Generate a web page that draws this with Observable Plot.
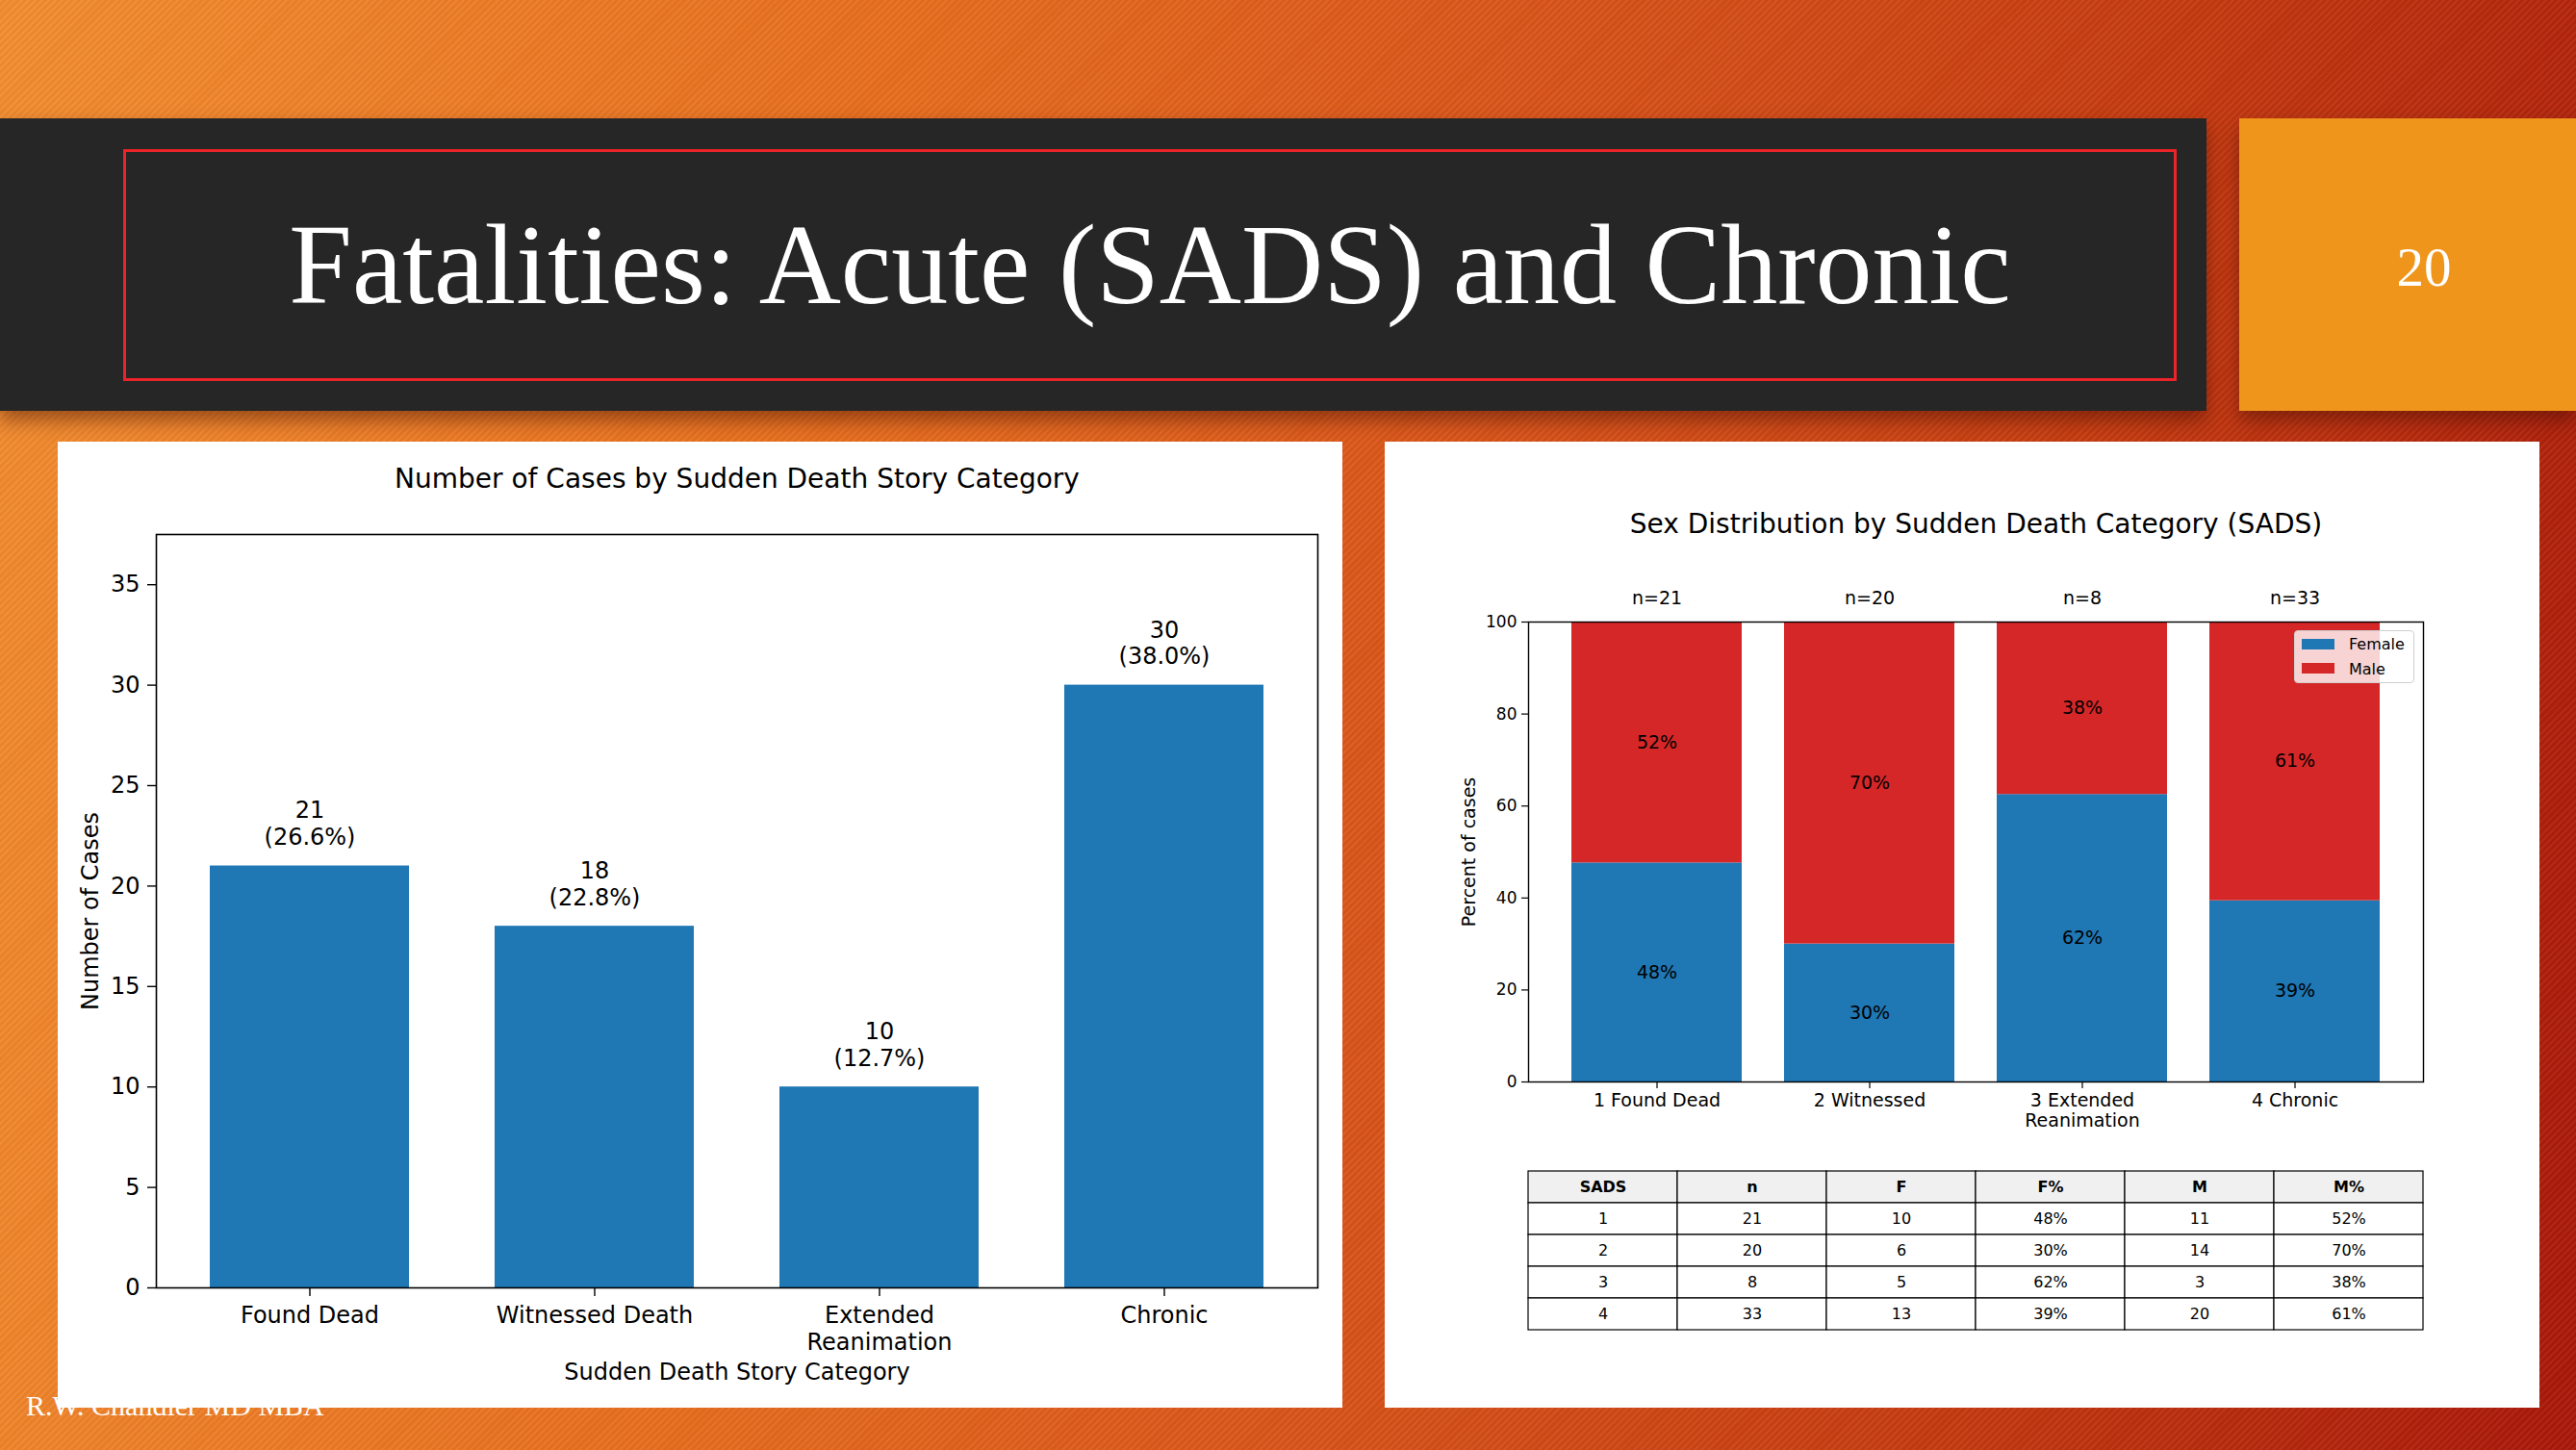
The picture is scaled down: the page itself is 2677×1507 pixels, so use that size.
<!DOCTYPE html>
<html>
<head>
<meta charset="utf-8">
<script src="https://cdn.jsdelivr.net/npm/d3@7"></script>
<script src="https://cdn.jsdelivr.net/npm/@observablehq/plot@0.6"></script>
<style>
  html, body { margin: 0; padding: 0; }
  body {
    width: 2677px; height: 1507px; overflow: hidden; position: relative;
    background:
      repeating-linear-gradient(135deg, rgba(255,255,255,0.05) 0px, rgba(255,255,255,0.05) 2px, rgba(0,0,0,0.03) 2px, rgba(0,0,0,0.03) 5px),
      linear-gradient(100deg, #f28d30 0%, #e8701f 30%, #d9541a 55%, #c43a10 78%, #a8180a 100%);
    font-family: "DejaVu Sans", sans-serif;
  }
  .abs { position: absolute; }
  #footer { left: 27px; top: 1446px; font-family: "Liberation Serif", serif; font-size: 30px; color: #fff; z-index: 1; line-height: 30px; white-space: nowrap; }
  #headbar { left: 0; top: 123px; width: 2293px; height: 304px; background: #262626; z-index: 2; box-shadow: 0 10px 18px rgba(60,10,0,0.45); }
  #redbox { left: 128px; top: 155px; width: 2128px; height: 235px; border: 3px solid #ea2428; z-index: 3; }
  #title { left: 128px; width: 2134px; top: 217px; text-align: center; font-family: "Liberation Serif", serif; font-size: 118px; line-height: 118px; color: #fff; z-index: 4; white-space: nowrap; }
  #pagebox { left: 2327px; top: 123px; width: 350px; height: 304px; background: #f0951b; z-index: 2; box-shadow: 0 10px 18px rgba(60,10,0,0.45); }
  #pagenum { left: 2327px; width: 384px; top: 249px; text-align: center; font-family: "Liberation Serif", serif; font-size: 57px; line-height: 57px; color: #fff; z-index: 4; }
  .panel { background: #fff; z-index: 5; top: 459px; height: 1004px; }
  #leftpanel { left: 60px; width: 1335px; }
  #rightpanel { left: 1439px; width: 1200px; }
  .panel svg { position: absolute; left: 0; top: 0; overflow: visible; }
  #legend { left: 945px; top: 196px; width: 125px; height: 55px; background: rgba(255,255,255,0.8); border: 1px solid #d0d0d0; border-radius: 4px; box-sizing: border-box; z-index: 6; }
  .sw { position: absolute; left: 7px; width: 34px; height: 11px; }
  .lt { position: absolute; left: 56px; font-size: 16px; line-height: 16px; color: #000; font-family: "DejaVu Sans", sans-serif; }
  #tablebox { left: 148px; top: 755px; }
</style>
</head>
<body>
<div id="footer" class="abs">R.W. Chandler MD MBA</div>
<div id="headbar" class="abs"></div>
<div id="redbox" class="abs"></div>
<div id="title" class="abs">Fatalities: Acute (SADS) and Chronic</div>
<div id="pagebox" class="abs"></div>
<div id="pagenum" class="abs">20</div>
<div id="leftpanel" class="abs panel"></div>
<div id="rightpanel" class="abs panel">
  <div id="legend" class="abs">
    <div class="sw" style="top:8px;background:#1f77b4"></div>
    <div class="lt" style="top:6px">Female</div>
    <div class="sw" style="top:33px;background:#d62728"></div>
    <div class="lt" style="top:32px">Male</div>
  </div>
  <div id="tablebox" class="abs"></div>
</div>
<script>
// ---------- Data ----------
const categories = ["Found Dead", "Witnessed Death", "Extended Reanimation", "Chronic"];
const categoryTickLabels = ["Found Dead", "Witnessed Death", "Extended\nReanimation", "Chronic"];
const caseCounts = [21, 18, 10, 30];
const casePercentLabels = ["26.6%", "22.8%", "12.7%", "38.0%"];
const countTicks = [0, 5, 10, 15, 20, 25, 30, 35];

const sadsCategories = ["1 Found Dead", "2 Witnessed", "3 Extended\nReanimation", "4 Chronic"];
const sadsIds = ["1", "2", "3", "4"];
const sadsN = [21, 20, 8, 33];
const femaleCounts = [10, 6, 5, 13];
const maleCounts = [11, 14, 3, 20];
const femalePctLabels = ["48%", "30%", "62%", "39%"];
const malePctLabels = ["52%", "70%", "38%", "61%"];
const percentTicks = [0, 20, 40, 60, 80, 100];
const sexLabels = ["Female", "Male"];
const sexColors = ["#1f77b4", "#d62728"];
const tableHeaders = ["SADS", "n", "F", "F%", "M", "M%"];

// ---------- Left chart ----------
const caseData = categories.map((c, i) => ({
  cat: c, count: caseCounts[i], label: `${caseCounts[i]}\n(${casePercentLabels[i]})`
}));

const left = Plot.plot({
  width: 1335, height: 1004,
  marginTop: 96, marginBottom: 125, marginLeft: 102, marginRight: 26,
  style: {fontFamily: "'DejaVu Sans', sans-serif", fontSize: "24px", color: "#000", background: "transparent", overflow: "visible"},
  x: {domain: categories, paddingInner: 0.3, paddingOuter: 0.185, align: 0.5},
  y: {domain: [0, 37.5]},
  marks: [
    Plot.barY(caseData, {x: "cat", y: "count", fill: "#1f77b4"}),
    Plot.text(caseData, {x: "cat", y: "count", text: "label", lineAnchor: "bottom", dy: -22, lineHeight: 1.15, fontSize: 24, fill: "#000"}),
    Plot.frame({stroke: "#000", strokeWidth: 1.6}),
    Plot.axisY({ticks: countTicks, tickSize: 9, tickPadding: 8, fontSize: 24, label: null, strokeWidth: 1.4}),
    Plot.axisX({tickSize: 9, tickPadding: 8, fontSize: 24, label: null, lineHeight: 1.15, strokeWidth: 1.4,
      tickFormat: (d) => categoryTickLabels[categories.indexOf(d)]}),
    Plot.text(["Number of Cases by Sudden Death Story Category"], {frameAnchor: "top", dy: -57, fontSize: 28, lineAnchor: "middle", fill: "#000"}),
    Plot.text(["Number of Cases"], {frameAnchor: "left", textAnchor: "middle", rotate: -90, dx: -68, fontSize: 24, lineAnchor: "middle", fill: "#000"}),
    Plot.text(["Sudden Death Story Category"], {frameAnchor: "bottom", dy: 88, fontSize: 24, lineAnchor: "middle", fill: "#000"})
  ]
});
document.getElementById("leftpanel").appendChild(left);

// ---------- Right chart ----------
const sexData = [];
sadsCategories.forEach((c, i) => {
  const f = femaleCounts[i] / sadsN[i] * 100;
  const m = maleCounts[i] / sadsN[i] * 100;
  sexData.push({cat: c, sex: sexLabels[0], y1: 0, y2: f, label: femalePctLabels[i]});
  sexData.push({cat: c, sex: sexLabels[1], y1: f, y2: f + m, label: malePctLabels[i]});
});
const nData = sadsCategories.map((c, i) => ({cat: c, t: `n=${sadsN[i]}`}));

const right = Plot.plot({
  width: 1200, height: 760,
  marginTop: 187, marginBottom: 95, marginLeft: 149, marginRight: 121,
  style: {fontFamily: "'DejaVu Sans', sans-serif", fontSize: "19px", color: "#000", background: "transparent", overflow: "visible"},
  x: {domain: sadsCategories, paddingInner: 0.2, paddingOuter: 0.195, align: 0.5},
  y: {domain: [0, 100]},
  color: {domain: sexLabels, range: sexColors},
  marks: [
    Plot.barY(sexData, {x: "cat", y1: "y1", y2: "y2", fill: "sex"}),
    Plot.text(sexData, {x: "cat", y: (d) => (d.y1 + d.y2) / 2, text: "label", fontSize: 19, fill: "#000"}),
    Plot.text(nData, {x: "cat", frameAnchor: "top", dy: -25, text: "t", fontSize: 19, lineAnchor: "middle", fill: "#000"}),
    Plot.frame({stroke: "#000", strokeWidth: 1.4}),
    Plot.axisY({ticks: percentTicks, tickSize: 7, tickPadding: 5, fontSize: 17, label: null, strokeWidth: 1.2}),
    Plot.axisX({tickSize: 7, tickPadding: 3, fontSize: 19, label: null, lineHeight: 1.12, strokeWidth: 1.2}),
    Plot.text(["Sex Distribution by Sudden Death Category (SADS)"], {frameAnchor: "top", dy: -101, fontSize: 28, lineAnchor: "middle", fill: "#000"}),
    Plot.text(["Percent of cases"], {frameAnchor: "left", textAnchor: "middle", rotate: -90, dx: -62, fontSize: 19, lineAnchor: "middle", fill: "#000"})
  ]
});
document.getElementById("rightpanel").insertBefore(right, document.getElementById("legend"));

// ---------- Table ----------
const tableRows = ["h", ...sadsIds];
const cells = [];
tableHeaders.forEach((h) => cells.push({col: h, row: "h", text: h, fill: "#f0f0f0", header: true}));
sadsIds.forEach((id, i) => {
  const vals = [id, String(sadsN[i]), String(femaleCounts[i]), femalePctLabels[i], String(maleCounts[i]), malePctLabels[i]];
  tableHeaders.forEach((h, j) => cells.push({col: h, row: id, text: vals[j], fill: "#ffffff", header: false}));
});

const table = Plot.plot({
  width: 932, height: 170,
  margin: 1,
  style: {fontFamily: "'DejaVu Sans', sans-serif", fontSize: "16px", color: "#000", background: "transparent", overflow: "visible"},
  x: {domain: tableHeaders, padding: 0, axis: null},
  y: {domain: tableRows, padding: 0, axis: null},
  color: {type: "identity"},
  marks: [
    Plot.cell(cells, {x: "col", y: "row", fill: "fill", stroke: "#000", strokeWidth: 1.2, inset: 0}),
    Plot.text(cells.filter((d) => d.header), {x: "col", y: "row", text: "text", fontWeight: "bold", fontSize: 16, fill: "#000"}),
    Plot.text(cells.filter((d) => !d.header), {x: "col", y: "row", text: "text", fontSize: 16, fill: "#000"})
  ]
});
table.style.position = "static";
document.getElementById("tablebox").appendChild(table);
</script>
</body>
</html>
